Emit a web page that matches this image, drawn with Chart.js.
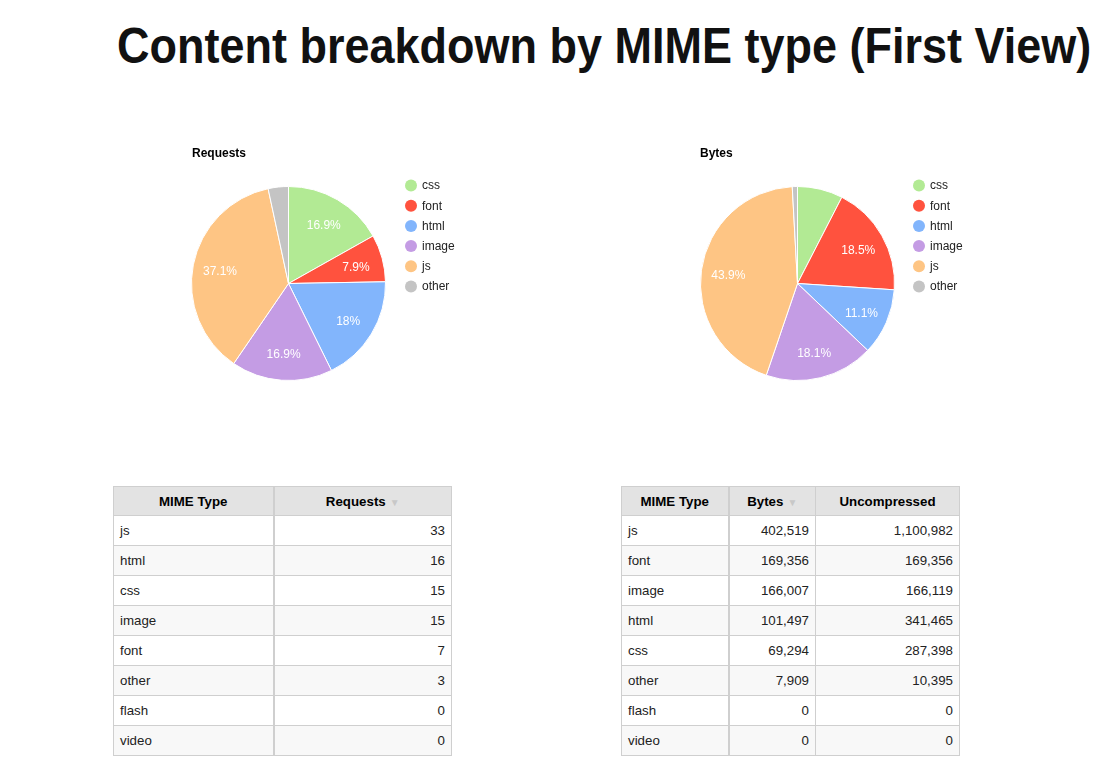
<!DOCTYPE html>
<html>
<head>
<meta charset="utf-8">
<script src="https://cdn.jsdelivr.net/npm/chart.js@4/dist/chart.umd.min.js"></script>
<style>
  html, body { margin:0; padding:0; background:#fff; }
  body { width:1119px; height:783px; position:relative; overflow:hidden; font-family:"Liberation Sans", Arial, sans-serif; }
  h1 { position:absolute; left:117px; top:17px; margin:0; font-size:45px; font-weight:bold; color:#111; white-space:nowrap; letter-spacing:0; transform-origin:0 0; transform:scaleY(1.12); }
  .pie { position:absolute; width:300px; height:260px; }
  table { position:absolute; border-collapse:collapse; table-layout:fixed; font-size:13.3px; color:#222; }
  th, td { border:1px solid #cfcfcf; height:30px; padding:0 6px; box-sizing:border-box; }
  th { background:#e3e3e3; font-weight:bold; text-align:center; color:#000; height:29px; }
  td.num { text-align:right; }
  tr.even td { background:#f8f8f8; }
  th.c1, td.c1 { border-right:2px solid #cfcfcf; }
  .arrow { color:#c8c8c8; font-size:10px; margin-left:4px; }
</style>
</head>
<body>
<h1 id="title"></h1>
<div class="pie" style="left:180px; top:140px;"><canvas id="reqChart" width="300" height="260"></canvas></div>
<div class="pie" style="left:688px; top:140px;"><canvas id="bytesChart" width="300" height="260"></canvas></div>
<table id="reqTable" style="left:113px; top:486px; width:338px;"></table>
<table id="bytesTable" style="left:621px; top:486px; width:338px;"></table>
<script>
// ---- data ----
const pageTitle = 'Content breakdown by MIME type (First View)';
const categories = ['css', 'font', 'html', 'image', 'js', 'other'];
const requestCounts = [15, 7, 16, 15, 33, 3];
const byteCounts = [69294, 169356, 101497, 166007, 402519, 7909];
const sliceColors = ['#B2EA94', '#FF523E', '#82B5FC', '#C49CE4', '#FEC584', '#C4C4C4'];

const reqTableTypes = ['js', 'html', 'css', 'image', 'font', 'other', 'flash', 'video'];
const reqTableValues = [33, 16, 15, 15, 7, 3, 0, 0];
const bytesTableTypes = ['js', 'font', 'image', 'html', 'css', 'other', 'flash', 'video'];
const bytesTableValues = [402519, 169356, 166007, 101497, 69294, 7909, 0, 0];
const bytesTableUncompressed = [1100982, 169356, 166119, 341465, 287398, 10395, 0, 0];

document.getElementById('title').textContent = pageTitle;

// ---- plugin: title, legend, slice labels ----
const decorPlugin = {
  id: 'decor',
  afterDraw(chart, args, opts) {
    const ctx = chart.ctx;
    ctx.save();
    // title
    ctx.font = 'bold 12px "Liberation Sans", Arial, sans-serif';
    ctx.fillStyle = '#000';
    ctx.textAlign = 'left';
    ctx.textBaseline = 'alphabetic';
    ctx.fillText(opts.title, 12, 17);
    // slice labels
    const meta = chart.getDatasetMeta(0);
    const data = chart.data.datasets[0].data;
    const total = data.reduce((a, b) => a + b, 0);
    ctx.font = '12px "Liberation Sans", Arial, sans-serif';
    ctx.fillStyle = '#fff';
    ctx.textAlign = 'center';
    ctx.textBaseline = 'middle';
    meta.data.forEach((arc, i) => {
      const pct = data[i] / total * 100;
      if (pct < 7.7) return;
      const p = arc.getProps(['x', 'y', 'startAngle', 'endAngle', 'outerRadius'], true);
      const mid = (p.startAngle + p.endAngle) / 2;
      const r = p.outerRadius * 0.72;
      const txt = (Math.round(pct * 10) / 10).toString() + '%';
      ctx.fillText(txt, p.x + Math.cos(mid) * r, p.y + Math.sin(mid) * r + 2);
    });
    // legend
    const labels = chart.data.labels;
    const colors = chart.data.datasets[0].backgroundColor;
    ctx.textAlign = 'left';
    labels.forEach((lab, i) => {
      const cy = 45.5 + i * 20.2;
      ctx.beginPath();
      ctx.arc(231, cy, 6, 0, Math.PI * 2);
      ctx.fillStyle = colors[i];
      ctx.fill();
      ctx.fillStyle = '#222';
      ctx.fillText(lab, 242, cy + 0.5);
    });
    ctx.restore();
  }
};

function makePie(id, values, title, padLeft) {
  new Chart(document.getElementById(id), {
    type: 'pie',
    data: {
      labels: categories,
      datasets: [{
        data: values,
        backgroundColor: sliceColors,
        borderColor: '#ffffff',
        borderWidth: 1
      }]
    },
    options: {
      responsive: false,
      animation: false,
      layout: { padding: { left: padLeft, top: 46, right: 300 - padLeft - 195, bottom: 260 - 46 - 195 } },
      plugins: {
        legend: { display: false },
        tooltip: { enabled: false },
        decor: { title: title }
      }
    },
    plugins: [decorPlugin]
  });
}
makePie('reqChart', requestCounts, 'Requests', 11);
makePie('bytesChart', byteCounts, 'Bytes', 12);

// ---- tables ----
const fmt = n => n.toLocaleString('en-US');
function buildTable(id, headers, widths, sortCol, rows) {
  const t = document.getElementById(id);
  const cg = document.createElement('colgroup');
  widths.forEach(w => { const c = document.createElement('col'); c.style.width = w + 'px'; cg.appendChild(c); });
  t.appendChild(cg);
  const hr = document.createElement('tr');
  headers.forEach((h, i) => {
    const th = document.createElement('th');
    th.textContent = h;
    if (i === 0) th.className = 'c1';
    if (i === sortCol) { const s = document.createElement('span'); s.className = 'arrow'; s.textContent = '\u25BC'; th.appendChild(s); }
    hr.appendChild(th);
  });
  t.appendChild(hr);
  rows.forEach((r, ri) => {
    const tr = document.createElement('tr');
    if (ri % 2 === 1) tr.className = 'even';
    r.forEach((v, i) => {
      const td = document.createElement('td');
      td.textContent = v;
      td.className = i === 0 ? 'c1' : 'num';
      tr.appendChild(td);
    });
    t.appendChild(tr);
  });
}
buildTable('reqTable', ['MIME Type', 'Requests'], [160, 178], 1,
  reqTableTypes.map((t, i) => [t, fmt(reqTableValues[i])]));
buildTable('bytesTable', ['MIME Type', 'Bytes', 'Uncompressed'], [107, 87, 144], 1,
  bytesTableTypes.map((t, i) => [t, fmt(bytesTableValues[i]), fmt(bytesTableUncompressed[i])]));
</script>
</body>
</html>
